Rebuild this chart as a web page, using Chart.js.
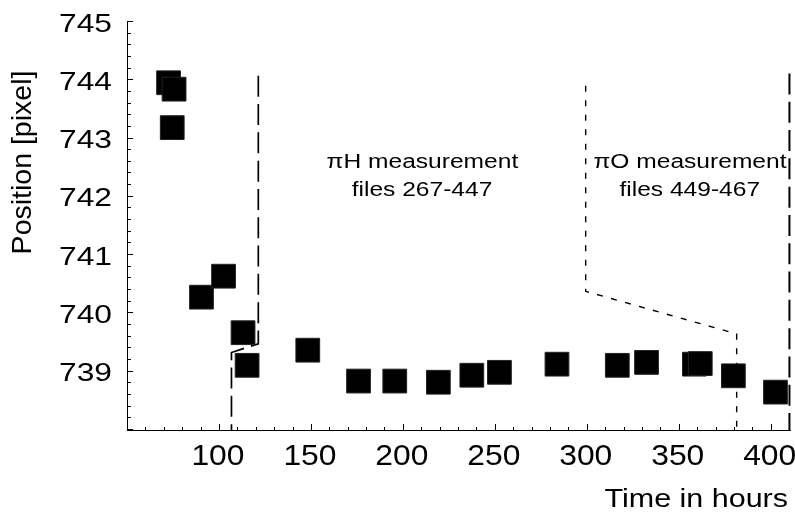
<!DOCTYPE html>
<html>
<head>
<meta charset="utf-8">
<script src="https://cdn.jsdelivr.net/npm/chart.js@4/dist/chart.umd.min.js"></script>
<style>
  html, body { margin: 0; padding: 0; background: #fff; }
  #wrap { width: 795px; height: 517px; }
</style>
</head>
<body>
<div id="wrap"><canvas id="pos_chart"></canvas></div>
<script>
// measured detector position vs time
let hours = [72.6, 75.6, 74.6, 90.5, 102.5, 113.1, 115.3, 148.3, 175.9, 195.6, 219.3, 237.5, 252.5, 283.8, 316.6, 332.5, 358.5, 361.7, 379.7, 402.6]
let positions = [743.94, 743.83, 743.17, 740.26, 740.62, 739.65, 739.09, 739.35, 738.82, 738.82, 738.80, 738.92, 738.97, 739.11, 739.09, 739.14, 739.11, 739.12, 738.91, 738.63]

// boundary lines of the measurement periods
let piHLineX = [121.4, 121.4, 106.8, 106.8]
let piHLineY = [744.06, 739.46, 739.31, 737.98]
let piOLineX = [299.4, 299.4, 381.5, 381.5]
let piOLineY = [743.89, 740.36, 739.63, 737.98]
let endLineX = [410.2, 410.2]
let endLineY = [744.1, 737.98]

let xTicks = [100, 150, 200, 250, 300, 350, 400]
let yTicks = [739, 740, 741, 742, 743, 744, 745]

let notes = [
    {x: 210.6, y: 742.47, text: "\u03c0H measurement"},
    {x: 210.4, y: 741.99, text: "files 267-447"},
    {x: 356.1, y: 742.47, text: "\u03c0O measurement"},
    {x: 356.0, y: 741.99, text: "files 449-467"}
]

function toPoints(xs, ys) {
    return xs.map((x, i) => ({x: x, y: ys[i]}))
}

function drawText(ctx, str, x, y, size, sx, align) {
    ctx.save()
    ctx.font = size + 'px "Liberation Sans", Arial, sans-serif'
    ctx.fillStyle = '#000'
    ctx.textAlign = align
    ctx.textBaseline = 'alphabetic'
    ctx.translate(x, y)
    ctx.scale(sx, 1)
    ctx.fillText(str, 0, 0)
    ctx.restore()
}

// ticks point inward and labels are drawn wide, like the original plot
let axisDecor = {
    id: 'axisDecor',
    afterDraw(chart) {
        let ctx = chart.ctx
        let xs = chart.scales.x
        let ys = chart.scales.y
        let area = chart.chartArea
        ctx.save()
        ctx.strokeStyle = '#000'
        ctx.lineWidth = 1
        ctx.beginPath()
        for (let v = 60; v <= 410; v += 10) {
            let px = Math.round(xs.getPixelForValue(v)) + 0.5
            let len = v % 50 === 0 ? 6 : 3
            ctx.moveTo(px, area.bottom)
            ctx.lineTo(px, area.bottom - len)
        }
        for (let i = 0; i <= 35; i++) {
            let v = 738 + i * 0.2
            let py = Math.round(ys.getPixelForValue(v)) + 0.5
            let len = i % 5 === 0 ? 6 : 4
            ctx.moveTo(area.left, py)
            ctx.lineTo(area.left + len, py)
        }
        ctx.stroke()
        ctx.restore()

        xTicks.forEach(v => {
            drawText(ctx, String(v), xs.getPixelForValue(v) - 1, 465, 30, 1.06, 'center')
        })
        yTicks.forEach(v => {
            drawText(ctx, String(v), 112, ys.getPixelForValue(v) + 10.7, 25, 1.27, 'right')
        })
        drawText(ctx, "Time in hours", 788, 507, 26.5, 1.15, 'right')

        ctx.save()
        ctx.translate(30.5, 162.5)
        ctx.rotate(-Math.PI / 2)
        drawText(ctx, "Position [pixel]", 0, 0, 28.5, 1, 'center')
        ctx.restore()

        notes.forEach(n => {
            drawText(ctx, n.text, xs.getPixelForValue(n.x), ys.getPixelForValue(n.y), 19.5, 1.26, 'center')
        })
    }
}

function lineSet(xs, ys, dash, width) {
    return {
        type: 'line',
        data: toPoints(xs, ys),
        showLine: true,
        borderColor: '#000',
        borderWidth: width,
        borderDash: dash,
        pointRadius: 0,
        fill: false,
        tension: 0,
        clip: false
    }
}

let config = {
    type: 'scatter',
    data: {
        datasets: [
            {
                label: 'Position',
                data: toPoints(hours, positions),
                pointStyle: 'rect',
                pointRadius: 16.8,
                pointHoverRadius: 16.8,
                backgroundColor: '#000',
                borderColor: '#222',
                borderWidth: 1,
                clip: false
            },
            lineSet(piHLineX, piHLineY, [21, 7.3], 1.7),
            lineSet(piOLineX, piOLineY, [6, 8.5], 1.4),
            lineSet(endLineX, endLineY, [21, 7.3], 2)
        ]
    },
    options: {
        responsive: false,
        animation: false,
        layout: {autoPadding: false, padding: {top: 21, right: 5, left: 0, bottom: 0}},
        plugins: {legend: {display: false}, tooltip: {enabled: false}},
        scales: {
            x: {
                type: 'linear',
                min: 50,
                max: 410.5,
                grid: {display: false},
                ticks: {display: false},
                border: {display: true, color: '#000', width: 1},
                afterFit: s => { s.height = 87 }
            },
            y: {
                type: 'linear',
                min: 737.98,
                max: 745,
                grid: {display: false},
                ticks: {display: false},
                border: {display: true, color: '#000', width: 1},
                afterFit: s => { s.width = 127 }
            }
        }
    },
    plugins: [axisDecor]
}

let canvas = document.getElementById('pos_chart')
canvas.width = 795
canvas.height = 517
new Chart(canvas.getContext('2d'), config)
</script>
</body>
</html>
